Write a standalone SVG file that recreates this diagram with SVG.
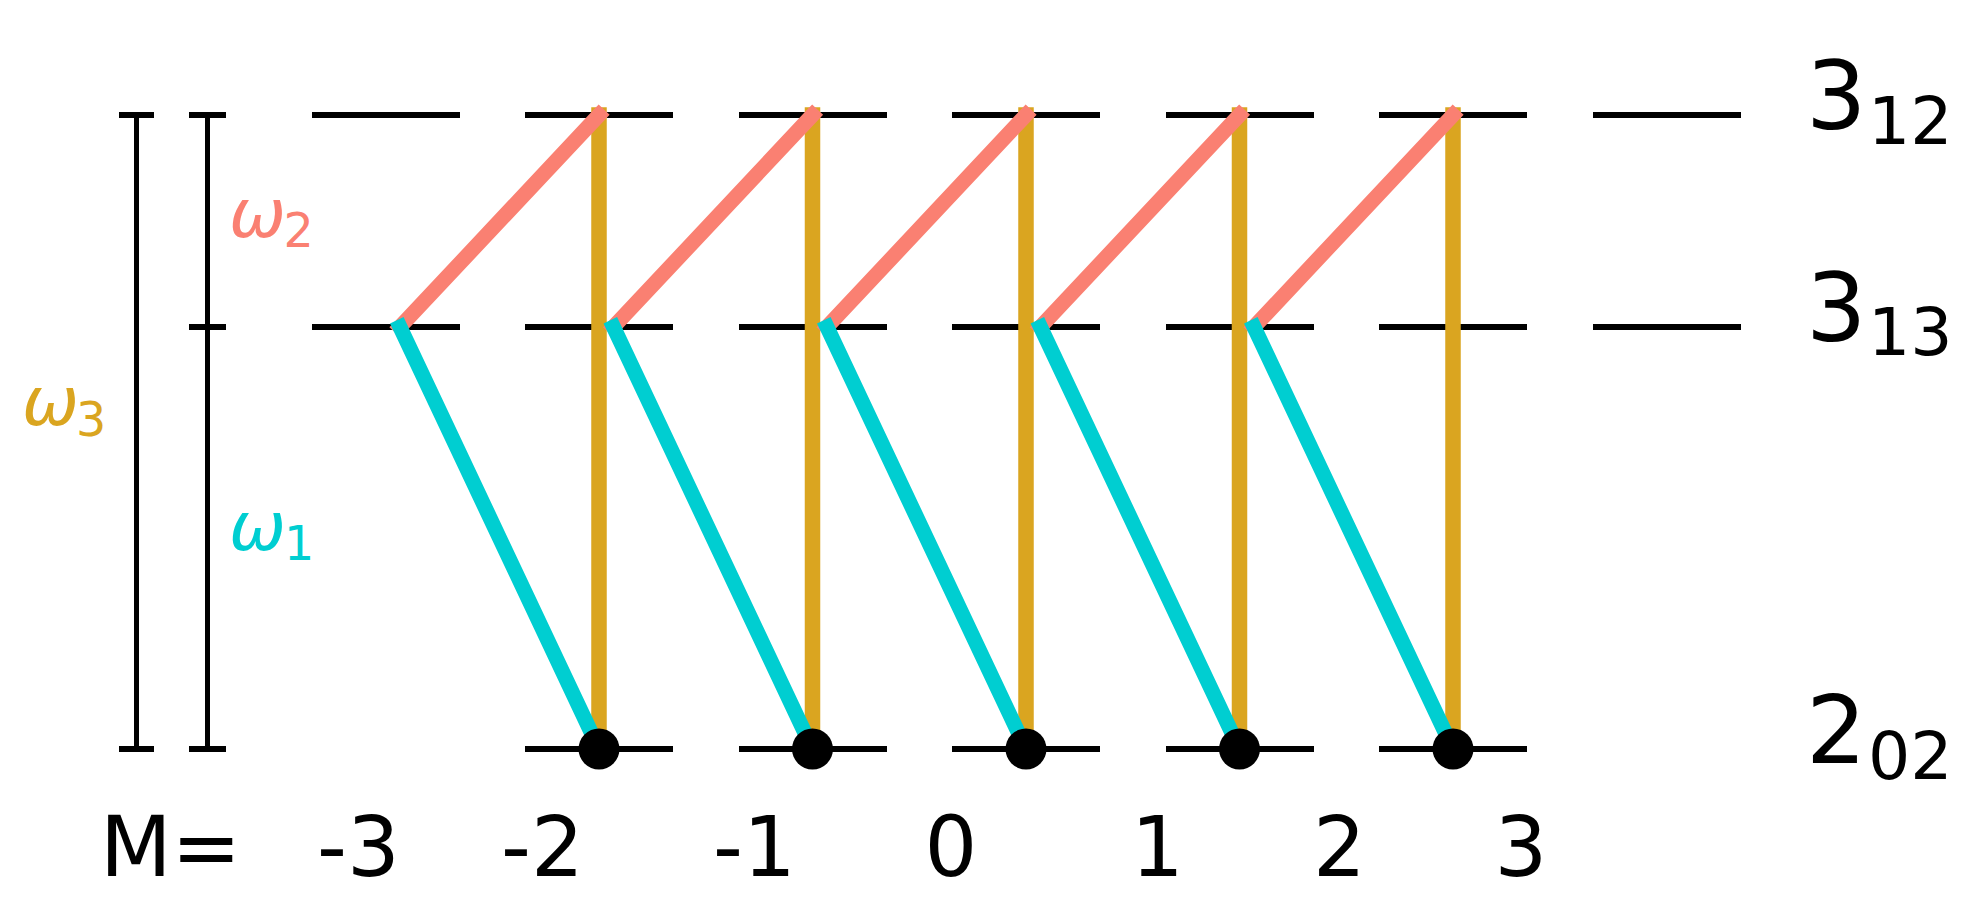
<svg xmlns="http://www.w3.org/2000/svg" width="1982" height="914" viewBox="0 0 1982 914">
<style>
.lvl{stroke:#000;stroke-width:5.5;fill:none;shape-rendering:crispEdges}
.bar{stroke:#000;stroke-width:5.5;fill:none;shape-rendering:crispEdges}
.g{stroke:#DAA520;stroke-width:15.5;stroke-linecap:square;fill:none}
.s{stroke:#FA8072;stroke-width:15;stroke-linecap:square;fill:none}
.c{stroke:#00CED1;stroke-width:15;stroke-linecap:square;fill:none}
.t{font-family:"DejaVu Sans","Liberation Sans",sans-serif;fill:#000}
.w{font-family:"DejaVu Sans","Liberation Sans",sans-serif;font-style:italic}
.d{font-family:"DejaVu Sans","Liberation Sans",sans-serif}
</style>
<rect width="1982" height="914" fill="#fff"/>
<g id="bars">
<path class="bar" d="M136.5,115V749M119,115H154M119,749H154"/>
<path class="bar" d="M207.5,115V749M189,115H226M189,327H226M189,749H226"/>
</g>
<g id="level-3-12">
<path class="lvl" d="M311.5,115H459.5M525,115H673M738.5,115H886.5M952,115H1100M1165.5,115H1313.5M1379,115H1527M1592.5,115H1740.5"/>
</g>
<g id="level-3-13">
<path class="lvl" d="M311.5,327H459.5M525,327H673M738.5,327H886.5M952,327H1100M1165.5,327H1313.5M1379,327H1527M1592.5,327H1740.5"/>
</g>
<g id="level-2-02">
<path class="lvl" d="M525,749H673M738.5,749H886.5M952,749H1100M1165.5,749H1313.5M1379,749H1527"/>
</g>
<g id="connectors">
<path class="g" d="M599,115V749M812.5,115V749M1026,115V749M1239.5,115V749M1453,115V749"/>
<path class="s" d="M400,327L599,115M613.5,327L812.5,115M827,327L1026,115M1040.5,327L1239.5,115M1254,327L1453,115"/>
<path class="c" d="M400,327L599,749M613.5,327L812.5,749M827,327L1026,749M1040.5,327L1239.5,749M1254,327L1453,749"/>
</g>
<g id="dots" fill="#000">
<circle cx="599" cy="749" r="20.5"/>
<circle cx="812.5" cy="749" r="20.5"/>
<circle cx="1026" cy="749" r="20.5"/>
<circle cx="1239.5" cy="749" r="20.5"/>
<circle cx="1453" cy="749" r="20.5"/>
</g>
<g id="omega-labels">
<text class="w" x="229" y="237" font-size="68" fill="#FA8072">ω</text>
<text class="d" x="283.5" y="247" font-size="47.6" fill="#FA8072">2</text>
<text class="w" x="229" y="550" font-size="68" fill="#00CED1">ω</text>
<text class="d" x="284" y="560" font-size="47.6" fill="#00CED1">1</text>
<text class="w" x="22" y="425" font-size="68" fill="#DAA520">ω</text>
<text class="d" x="76" y="435.5" font-size="47.6" fill="#DAA520">3</text>
</g>
<g id="level-labels">
<text class="t" x="1806" y="129" font-size="95">3</text>
<text class="t" x="1868" y="144" font-size="66.5">12</text>
<text class="t" x="1806" y="341" font-size="95">3</text>
<text class="t" x="1868" y="355" font-size="66.5">13</text>
<text class="t" x="1806" y="763" font-size="95">2</text>
<text class="t" x="1868" y="779" font-size="66.5">02</text>
</g>
<g id="m-labels" class="t" font-size="83">
<text class="t" x="100" y="876">M=</text>
<text class="t" x="317" y="876">-3</text>
<text class="t" x="501" y="876">-2</text>
<text class="t" x="713" y="876">-1</text>
<text class="t" x="924.5" y="876">0</text>
<text class="t" x="1131" y="876">1</text>
<text class="t" x="1313" y="876">2</text>
<text class="t" x="1494.5" y="876">3</text>
</g>
</svg>
